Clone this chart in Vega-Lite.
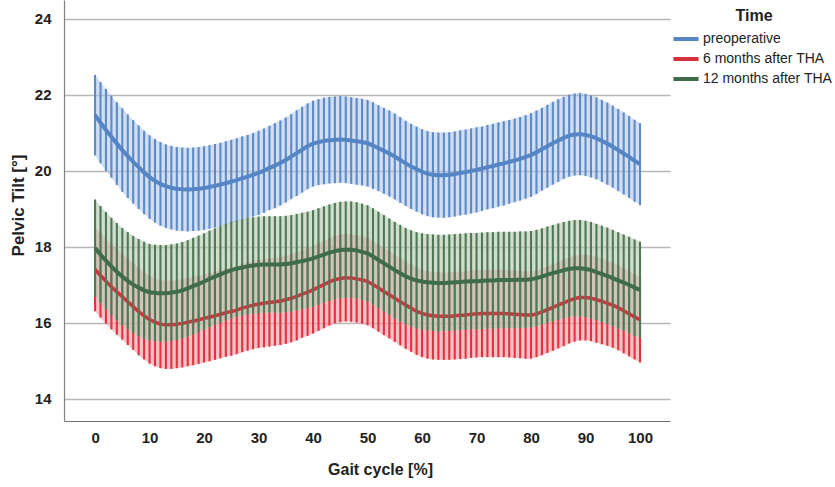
{
  "$schema": "https://vega.github.io/schema/vega-lite/v6.json",
  "width": 606,
  "height": 421,
  "autosize": {"type": "none"},
  "padding": {"left": 64, "top": 0, "right": 165, "bottom": 66},
  "background": "white",
  "config": {
    "font": "Liberation Sans",
    "view": {"stroke": null},
    "legend": {
      "orient": "none",
      "legendX": 611,
      "legendY": 8,
      "titleFontSize": 16,
      "titleFontWeight": "bold",
      "titleColor": "#222222",
      "titleAnchor": "middle",
      "titlePadding": 4,
      "labelFontSize": 14,
      "labelColor": "#222222",
      "labelOffset": 6,
      "symbolType": "M-1.45,0H1.45",
      "symbolStrokeWidth": 4,
      "symbolSize": 300,
      "rowPadding": 1
    }
  },
  "datasets": {
    "pre": [
      {"x":0,"m":21.47,"e":1.06},{"x":1,"m":21.27,"e":1.07},{"x":2,"m":21.08,"e":1.08},{"x":3,"m":20.9,"e":1.08},{"x":4,"m":20.72,"e":1.09},{"x":5,"m":20.55,"e":1.1},{"x":6,"m":20.39,"e":1.1},{"x":7,"m":20.24,"e":1.1},{"x":8,"m":20.1,"e":1.1},{"x":9,"m":19.96,"e":1.1},
      {"x":10,"m":19.84,"e":1.1},{"x":11,"m":19.74,"e":1.1},{"x":12,"m":19.66,"e":1.1},{"x":13,"m":19.6,"e":1.1},{"x":14,"m":19.56,"e":1.1},{"x":15,"m":19.53,"e":1.1},{"x":16,"m":19.52,"e":1.1},{"x":17,"m":19.51,"e":1.1},{"x":18,"m":19.52,"e":1.1},{"x":19,"m":19.53,"e":1.1},
      {"x":20,"m":19.55,"e":1.1},{"x":21,"m":19.58,"e":1.1},{"x":22,"m":19.61,"e":1.1},{"x":23,"m":19.64,"e":1.1},{"x":24,"m":19.68,"e":1.1},{"x":25,"m":19.72,"e":1.1},{"x":26,"m":19.76,"e":1.1},{"x":27,"m":19.81,"e":1.1},{"x":28,"m":19.85,"e":1.1},{"x":29,"m":19.9,"e":1.1},
      {"x":30,"m":19.95,"e":1.11},{"x":31,"m":20.01,"e":1.11},{"x":32,"m":20.08,"e":1.11},{"x":33,"m":20.14,"e":1.12},{"x":34,"m":20.21,"e":1.12},{"x":35,"m":20.29,"e":1.12},{"x":36,"m":20.38,"e":1.12},{"x":37,"m":20.47,"e":1.13},{"x":38,"m":20.56,"e":1.13},{"x":39,"m":20.65,"e":1.13},
      {"x":40,"m":20.72,"e":1.13},{"x":41,"m":20.76,"e":1.13},{"x":42,"m":20.79,"e":1.14},{"x":43,"m":20.81,"e":1.14},{"x":44,"m":20.82,"e":1.14},{"x":45,"m":20.83,"e":1.14},{"x":46,"m":20.82,"e":1.14},{"x":47,"m":20.8,"e":1.14},{"x":48,"m":20.78,"e":1.14},{"x":49,"m":20.76,"e":1.14},
      {"x":50,"m":20.73,"e":1.14},{"x":51,"m":20.67,"e":1.14},{"x":52,"m":20.6,"e":1.13},{"x":53,"m":20.53,"e":1.13},{"x":54,"m":20.46,"e":1.13},{"x":55,"m":20.38,"e":1.13},{"x":56,"m":20.29,"e":1.13},{"x":57,"m":20.2,"e":1.12},{"x":58,"m":20.12,"e":1.12},{"x":59,"m":20.05,"e":1.12},
      {"x":60,"m":19.98,"e":1.12},{"x":61,"m":19.93,"e":1.12},{"x":62,"m":19.9,"e":1.12},{"x":63,"m":19.89,"e":1.12},{"x":64,"m":19.89,"e":1.12},{"x":65,"m":19.9,"e":1.12},{"x":66,"m":19.92,"e":1.12},{"x":67,"m":19.95,"e":1.12},{"x":68,"m":19.97,"e":1.12},{"x":69,"m":20.0,"e":1.12},
      {"x":70,"m":20.03,"e":1.12},{"x":71,"m":20.06,"e":1.11},{"x":72,"m":20.1,"e":1.11},{"x":73,"m":20.13,"e":1.11},{"x":74,"m":20.17,"e":1.11},{"x":75,"m":20.2,"e":1.11},{"x":76,"m":20.24,"e":1.1},{"x":77,"m":20.28,"e":1.1},{"x":78,"m":20.32,"e":1.1},{"x":79,"m":20.37,"e":1.1},
      {"x":80,"m":20.42,"e":1.1},{"x":81,"m":20.49,"e":1.1},{"x":82,"m":20.57,"e":1.09},{"x":83,"m":20.65,"e":1.09},{"x":84,"m":20.73,"e":1.09},{"x":85,"m":20.8,"e":1.09},{"x":86,"m":20.87,"e":1.08},{"x":87,"m":20.93,"e":1.08},{"x":88,"m":20.96,"e":1.08},{"x":89,"m":20.97,"e":1.08},
      {"x":90,"m":20.95,"e":1.08},{"x":91,"m":20.91,"e":1.08},{"x":92,"m":20.86,"e":1.08},{"x":93,"m":20.79,"e":1.08},{"x":94,"m":20.72,"e":1.08},{"x":95,"m":20.64,"e":1.08},{"x":96,"m":20.55,"e":1.08},{"x":97,"m":20.46,"e":1.08},{"x":98,"m":20.37,"e":1.08},{"x":99,"m":20.27,"e":1.08},
      {"x":100,"m":20.18,"e":1.08}
    ],
    "m6": [
      {"x":0,"m":17.41,"e":1.1},{"x":1,"m":17.25,"e":1.11},{"x":2,"m":17.1,"e":1.12},{"x":3,"m":16.95,"e":1.12},{"x":4,"m":16.82,"e":1.13},{"x":5,"m":16.69,"e":1.13},{"x":6,"m":16.56,"e":1.14},{"x":7,"m":16.43,"e":1.14},{"x":8,"m":16.3,"e":1.15},{"x":9,"m":16.19,"e":1.15},
      {"x":10,"m":16.09,"e":1.16},{"x":11,"m":16.02,"e":1.16},{"x":12,"m":15.97,"e":1.16},{"x":13,"m":15.95,"e":1.16},{"x":14,"m":15.95,"e":1.16},{"x":15,"m":15.97,"e":1.16},{"x":16,"m":15.99,"e":1.16},{"x":17,"m":16.02,"e":1.16},{"x":18,"m":16.05,"e":1.16},{"x":19,"m":16.08,"e":1.16},
      {"x":20,"m":16.12,"e":1.16},{"x":21,"m":16.15,"e":1.16},{"x":22,"m":16.19,"e":1.16},{"x":23,"m":16.23,"e":1.16},{"x":24,"m":16.27,"e":1.16},{"x":25,"m":16.3,"e":1.16},{"x":26,"m":16.34,"e":1.16},{"x":27,"m":16.39,"e":1.16},{"x":28,"m":16.43,"e":1.16},{"x":29,"m":16.47,"e":1.16},
      {"x":30,"m":16.5,"e":1.16},{"x":31,"m":16.52,"e":1.16},{"x":32,"m":16.54,"e":1.16},{"x":33,"m":16.56,"e":1.16},{"x":34,"m":16.58,"e":1.16},{"x":35,"m":16.61,"e":1.16},{"x":36,"m":16.65,"e":1.16},{"x":37,"m":16.7,"e":1.16},{"x":38,"m":16.76,"e":1.15},{"x":39,"m":16.81,"e":1.15},
      {"x":40,"m":16.87,"e":1.15},{"x":41,"m":16.94,"e":1.15},{"x":42,"m":17.01,"e":1.15},{"x":43,"m":17.08,"e":1.15},{"x":44,"m":17.14,"e":1.15},{"x":45,"m":17.17,"e":1.15},{"x":46,"m":17.19,"e":1.15},{"x":47,"m":17.18,"e":1.15},{"x":48,"m":17.16,"e":1.15},{"x":49,"m":17.13,"e":1.15},
      {"x":50,"m":17.09,"e":1.15},{"x":51,"m":17.01,"e":1.15},{"x":52,"m":16.92,"e":1.15},{"x":53,"m":16.83,"e":1.15},{"x":54,"m":16.74,"e":1.15},{"x":55,"m":16.65,"e":1.15},{"x":56,"m":16.56,"e":1.15},{"x":57,"m":16.47,"e":1.15},{"x":58,"m":16.39,"e":1.15},{"x":59,"m":16.31,"e":1.15},
      {"x":60,"m":16.25,"e":1.15},{"x":61,"m":16.21,"e":1.15},{"x":62,"m":16.19,"e":1.15},{"x":63,"m":16.18,"e":1.15},{"x":64,"m":16.18,"e":1.15},{"x":65,"m":16.18,"e":1.15},{"x":66,"m":16.19,"e":1.15},{"x":67,"m":16.2,"e":1.15},{"x":68,"m":16.21,"e":1.15},{"x":69,"m":16.23,"e":1.15},
      {"x":70,"m":16.24,"e":1.15},{"x":71,"m":16.25,"e":1.15},{"x":72,"m":16.25,"e":1.15},{"x":73,"m":16.25,"e":1.15},{"x":74,"m":16.25,"e":1.15},{"x":75,"m":16.25,"e":1.15},{"x":76,"m":16.24,"e":1.15},{"x":77,"m":16.23,"e":1.15},{"x":78,"m":16.22,"e":1.15},{"x":79,"m":16.21,"e":1.15},
      {"x":80,"m":16.21,"e":1.15},{"x":81,"m":16.24,"e":1.14},{"x":82,"m":16.29,"e":1.14},{"x":83,"m":16.35,"e":1.14},{"x":84,"m":16.41,"e":1.14},{"x":85,"m":16.47,"e":1.14},{"x":86,"m":16.53,"e":1.14},{"x":87,"m":16.59,"e":1.13},{"x":88,"m":16.64,"e":1.13},{"x":89,"m":16.67,"e":1.13},
      {"x":90,"m":16.67,"e":1.13},{"x":91,"m":16.65,"e":1.13},{"x":92,"m":16.61,"e":1.13},{"x":93,"m":16.57,"e":1.13},{"x":94,"m":16.52,"e":1.12},{"x":95,"m":16.47,"e":1.12},{"x":96,"m":16.4,"e":1.12},{"x":97,"m":16.32,"e":1.12},{"x":98,"m":16.24,"e":1.12},{"x":99,"m":16.16,"e":1.12},
      {"x":100,"m":16.08,"e":1.12}
    ],
    "m12": [
      {"x":0,"m":17.97,"e":1.28},{"x":1,"m":17.8,"e":1.28},{"x":2,"m":17.64,"e":1.28},{"x":3,"m":17.49,"e":1.28},{"x":4,"m":17.35,"e":1.28},{"x":5,"m":17.22,"e":1.28},{"x":6,"m":17.11,"e":1.28},{"x":7,"m":17.01,"e":1.28},{"x":8,"m":16.93,"e":1.28},{"x":9,"m":16.86,"e":1.28},
      {"x":10,"m":16.81,"e":1.27},{"x":11,"m":16.79,"e":1.27},{"x":12,"m":16.78,"e":1.27},{"x":13,"m":16.78,"e":1.27},{"x":14,"m":16.8,"e":1.27},{"x":15,"m":16.82,"e":1.27},{"x":16,"m":16.86,"e":1.27},{"x":17,"m":16.91,"e":1.27},{"x":18,"m":16.97,"e":1.27},{"x":19,"m":17.03,"e":1.27},
      {"x":20,"m":17.09,"e":1.27},{"x":21,"m":17.16,"e":1.27},{"x":22,"m":17.22,"e":1.27},{"x":23,"m":17.28,"e":1.27},{"x":24,"m":17.34,"e":1.27},{"x":25,"m":17.39,"e":1.27},{"x":26,"m":17.43,"e":1.27},{"x":27,"m":17.46,"e":1.27},{"x":28,"m":17.49,"e":1.27},{"x":29,"m":17.51,"e":1.27},
      {"x":30,"m":17.53,"e":1.27},{"x":31,"m":17.54,"e":1.27},{"x":32,"m":17.54,"e":1.27},{"x":33,"m":17.54,"e":1.27},{"x":34,"m":17.54,"e":1.27},{"x":35,"m":17.55,"e":1.27},{"x":36,"m":17.57,"e":1.27},{"x":37,"m":17.6,"e":1.27},{"x":38,"m":17.63,"e":1.27},{"x":39,"m":17.66,"e":1.27},
      {"x":40,"m":17.7,"e":1.27},{"x":41,"m":17.75,"e":1.27},{"x":42,"m":17.8,"e":1.27},{"x":43,"m":17.85,"e":1.27},{"x":44,"m":17.89,"e":1.27},{"x":45,"m":17.92,"e":1.27},{"x":46,"m":17.93,"e":1.27},{"x":47,"m":17.93,"e":1.27},{"x":48,"m":17.91,"e":1.27},{"x":49,"m":17.87,"e":1.27},
      {"x":50,"m":17.83,"e":1.27},{"x":51,"m":17.75,"e":1.27},{"x":52,"m":17.66,"e":1.27},{"x":53,"m":17.57,"e":1.27},{"x":54,"m":17.48,"e":1.27},{"x":55,"m":17.39,"e":1.27},{"x":56,"m":17.31,"e":1.27},{"x":57,"m":17.23,"e":1.27},{"x":58,"m":17.17,"e":1.27},{"x":59,"m":17.12,"e":1.27},
      {"x":60,"m":17.09,"e":1.27},{"x":61,"m":17.07,"e":1.27},{"x":62,"m":17.06,"e":1.27},{"x":63,"m":17.05,"e":1.27},{"x":64,"m":17.05,"e":1.27},{"x":65,"m":17.06,"e":1.27},{"x":66,"m":17.07,"e":1.27},{"x":67,"m":17.08,"e":1.27},{"x":68,"m":17.09,"e":1.27},{"x":69,"m":17.1,"e":1.27},
      {"x":70,"m":17.1,"e":1.27},{"x":71,"m":17.11,"e":1.27},{"x":72,"m":17.12,"e":1.27},{"x":73,"m":17.12,"e":1.27},{"x":74,"m":17.13,"e":1.27},{"x":75,"m":17.13,"e":1.27},{"x":76,"m":17.13,"e":1.27},{"x":77,"m":17.13,"e":1.27},{"x":78,"m":17.14,"e":1.27},{"x":79,"m":17.14,"e":1.27},
      {"x":80,"m":17.15,"e":1.27},{"x":81,"m":17.18,"e":1.27},{"x":82,"m":17.22,"e":1.27},{"x":83,"m":17.27,"e":1.27},{"x":84,"m":17.31,"e":1.27},{"x":85,"m":17.35,"e":1.27},{"x":86,"m":17.39,"e":1.27},{"x":87,"m":17.42,"e":1.27},{"x":88,"m":17.44,"e":1.27},{"x":89,"m":17.44,"e":1.27},
      {"x":90,"m":17.42,"e":1.27},{"x":91,"m":17.39,"e":1.27},{"x":92,"m":17.34,"e":1.27},{"x":93,"m":17.29,"e":1.27},{"x":94,"m":17.24,"e":1.27},{"x":95,"m":17.18,"e":1.27},{"x":96,"m":17.12,"e":1.27},{"x":97,"m":17.06,"e":1.27},{"x":98,"m":17.0,"e":1.27},{"x":99,"m":16.93,"e":1.27},
      {"x":100,"m":16.87,"e":1.27}
    ]
  },
  "encoding": {
    "x": {
      "field": "x",
      "type": "quantitative",
      "scale": {"domain": [-5.7, 105.5], "nice": false, "zero": false},
      "axis": {
        "values": [0, 10, 20, 30, 40, 50, 60, 70, 80, 90, 100],
        "grid": false,
        "ticks": false,
        "domainColor": "#707070",
        "domainWidth": 1.2,
        "labelFontSize": 15,
        "labelFontWeight": "bold",
        "labelColor": "#222222",
        "labelPadding": 9,
        "title": "Gait cycle [%]",
        "titleFontSize": 16,
        "titleFontWeight": "bold",
        "titleColor": "#222222",
        "titleX": 316,
        "titleY": 48,
        "titleBaseline": "middle",
        "titleAnchor": null
      }
    },
    "y": {
      "field": "m",
      "type": "quantitative",
      "scale": {"domain": [13.42, 24.5], "nice": false, "zero": false},
      "axis": {
        "values": [14, 16, 18, 20, 22, 24],
        "grid": true,
        "gridColor": "#bdb5b5",
        "gridWidth": 1.3,
        "ticks": false,
        "domainColor": "#808080",
        "domainWidth": 1.2,
        "labelFontSize": 15,
        "labelFontWeight": "bold",
        "labelColor": "#222222",
        "labelPadding": 13,
        "title": "Pelvic Tilt [°]",
        "titleFontSize": 17,
        "titleFontWeight": "bold",
        "titleColor": "#222222",
        "titleAngle": -90,
        "titleX": -46,
        "titleY": 205,
        "titleBaseline": "middle",
        "titleAlign": "center"
      }
    }
  },
  "layer": [
    {
      "data": {"name": "pre"},
      "mark": {"type": "errorband", "band": {"color": "#a7c0e3", "opacity": 0.5}},
      "encoding": {"yError": {"field": "e"}}
    },
    {
      "data": {"name": "pre"},
      "mark": {"type": "errorbar", "rule": {"color": "#5b8bc8", "strokeWidth": 2.1}},
      "encoding": {"yError": {"field": "e"}}
    },
    {
      "data": {"name": "pre"},
      "mark": {"type": "line", "strokeWidth": 4, "interpolate": "monotone"},
      "encoding": {
        "color": {
          "datum": "preoperative",
          "type": "nominal",
          "scale": {
            "domain": ["preoperative", "6 months after THA", "12 months after THA"],
            "range": ["#5585c4", "#d8303c", "#3f6c4a"]
          },
          "legend": {"title": "Time"}
        }
      }
    },
    {
      "data": {"name": "m6"},
      "mark": {"type": "errorband", "band": {"color": "#f29aa2", "opacity": 0.6}},
      "encoding": {"yError": {"field": "e"}}
    },
    {
      "data": {"name": "m6"},
      "mark": {"type": "errorbar", "rule": {"color": "#e2323e", "strokeWidth": 2.1}},
      "encoding": {"yError": {"field": "e"}}
    },
    {
      "data": {"name": "m12"},
      "mark": {"type": "errorband", "band": {"color": "#b6c6ae", "opacity": 0.6}},
      "encoding": {"yError": {"field": "e"}}
    },
    {
      "data": {"name": "m6"},
      "mark": {"type": "line", "strokeWidth": 3.5, "interpolate": "monotone"},
      "encoding": {"color": {"datum": "6 months after THA", "type": "nominal"}}
    },
    {
      "data": {"name": "m12"},
      "mark": {"type": "errorbar", "rule": {"color": "#4c7a56", "strokeWidth": 2.1}},
      "encoding": {"yError": {"field": "e"}}
    },
    {
      "data": {"name": "m12"},
      "mark": {"type": "line", "strokeWidth": 4, "interpolate": "monotone"},
      "encoding": {"color": {"datum": "12 months after THA", "type": "nominal"}}
    }
  ]
}
